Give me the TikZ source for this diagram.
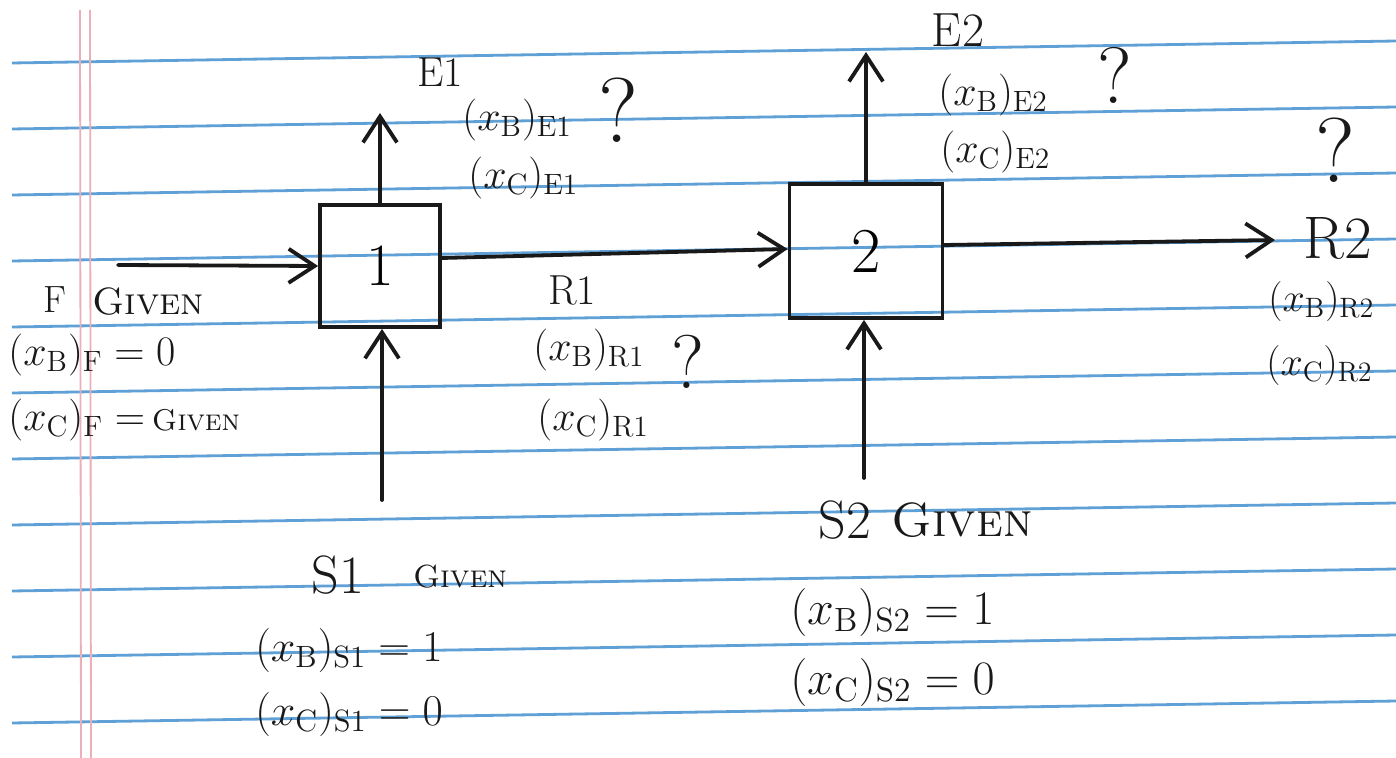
\RequirePackage{fix-cm}
\documentclass[tikz,border=0pt]{standalone}
\usetikzlibrary{arrows.meta}
\newcommand\fsz[1]{\fontsize{#1}{#1}\selectfont}
\definecolor{ruleblue}{RGB}{95,160,215}
\definecolor{marginred}{RGB}{235,175,185}
\definecolor{ink}{RGB}{25,25,25}
\tikzset{
  ruling/.style={draw=ruleblue, line width=1.4pt},
  marginline/.style={draw=marginred, line width=0.9pt},
  inkline/.style={draw=ink, line width=1.9pt, line cap=round, line join=round},
  flow/.style={inkline, -{Straight Barb[length=13pt,width=17pt,line width=1.9pt]}},
  proc/.style={draw=ink, line width=1.9pt, rectangle, inner sep=0pt},
  lbl/.style={text=ink, inner sep=0pt},
}
\begin{document}
\begin{tikzpicture}[x=0.5pt,y=-0.5pt]
\fill[white] (0,0) rectangle (1396,758);
\useasboundingbox (0,0) rectangle (1396,758);
% paper ruling
\foreach \k in {0,...,10}{
  \draw[ruling] (12,{63+66*\k}) -- (1396,{63+66*\k-22});
}
\draw[marginline] (80,10) -- (81,758);
\draw[marginline] (90,10) -- (91,758);

% process boxes
\node[proc, minimum width=60pt, minimum height=61pt] (b1) at (380,266) {\fsz{30}1};
\node[proc, minimum width=76.5pt, minimum height=67pt] (b2) at (866,251) {\fsz{32}2};

% free ends
\coordinate (fin) at (118,265);
\coordinate (e1out) at (380,113);
\coordinate (s1in) at (382,500);
\coordinate (e2out) at (866,52);
\coordinate (s2in) at (864,478);
\coordinate (r2out) at (1275,240);

% connectors
\draw[flow] (fin) -- (b1.west);
\draw[flow] (b1.north) -- (e1out);
\draw[flow] (s1in) -- (s1in |- b1.south);
\draw[flow] ([yshift=4pt]b1.east) -- ([yshift=1pt]b2.west);
\draw[flow] (b2.north) -- (e2out);
\draw[flow] (s2in) -- (s2in |- b2.south);
\draw[flow] ([yshift=3pt]b2.east) -- (r2out);

% feed F
\node[lbl] (fF) at (55,300) {\fsz{19}F};
\node[lbl] (fG) at (148,302) {\fsz{19}\textsc{Given}};
\node[lbl, anchor=west] (fxb) at (8,355) {\fsz{21}$(x_{\mathrm{B}})_{\mathrm{F}}=0$};
\node[lbl, anchor=west] (fxc) at (8,420) {\fsz{21}$(x_{\mathrm{C}})_{\mathrm{F}}=$\,\fsz{15}\textsc{Given}};

% E1
\node[lbl] (e1) at (440,72) {\fsz{21}E1};
\node[lbl, anchor=west] (e1xb) at (462,120) {\fsz{21}$(x_{\mathrm{B}})_{\mathrm{E1}}$};
\node[lbl] (e1q) at (618,110) {\fsz{46}?};
\node[lbl, anchor=west] (e1xc) at (468,178) {\fsz{21}$(x_{\mathrm{C}})_{\mathrm{E1}}$};

% R1
\node[lbl] (r1) at (572,290) {\fsz{21}R1};
\node[lbl, anchor=west] (r1xb) at (533,350) {\fsz{21}$(x_{\mathrm{B}})_{\mathrm{R1}}$};
\node[lbl] (r1q) at (688,362) {\fsz{38}?};
\node[lbl, anchor=west] (r1xc) at (537,420) {\fsz{21}$(x_{\mathrm{C}})_{\mathrm{R1}}$};

% S1
\node[lbl] (s1) at (338,575) {\fsz{27}S1};
\node[lbl] (s1g) at (460,577) {\fsz{16}\textsc{Given}};
\node[lbl, anchor=west] (s1xb) at (255,650) {\fsz{22}$(x_{\mathrm{B}})_{\mathrm{S1}}=1$};
\node[lbl, anchor=west] (s1xc) at (255,714) {\fsz{22}$(x_{\mathrm{C}})_{\mathrm{S1}}=0$};

% E2
\node[lbl] (e2) at (958,30) {\fsz{24}E2};
\node[lbl, anchor=west] (e2xb) at (938,95) {\fsz{21}$(x_{\mathrm{B}})_{\mathrm{E2}}$};
\node[lbl] (e2q) at (1115,75) {\fsz{40}?};
\node[lbl, anchor=west] (e2xc) at (940,152) {\fsz{21}$(x_{\mathrm{C}})_{\mathrm{E2}}$};

% R2
\node[lbl] (r2q) at (1335,150) {\fsz{46}?};
\node[lbl] (r2) at (1338,238) {\fsz{30}R2};
\node[lbl, anchor=west] (r2xb) at (1268,302) {\fsz{20}$(x_{\mathrm{B}})_{\mathrm{R2}}$};
\node[lbl, anchor=west] (r2xc) at (1266,366) {\fsz{20}$(x_{\mathrm{C}})_{\mathrm{R2}}$};

% S2
\node[lbl] (s2) at (845,520) {\fsz{27}S2};
\node[lbl] (s2g) at (962,520) {\fsz{24}\textsc{Given}};
\node[lbl, anchor=west] (s2xb) at (790,612) {\fsz{24}$(x_{\mathrm{B}})_{\mathrm{S2}}=1$};
\node[lbl, anchor=west] (s2xc) at (790,682) {\fsz{24}$(x_{\mathrm{C}})_{\mathrm{S2}}=0$};
\end{tikzpicture}
\end{document}
